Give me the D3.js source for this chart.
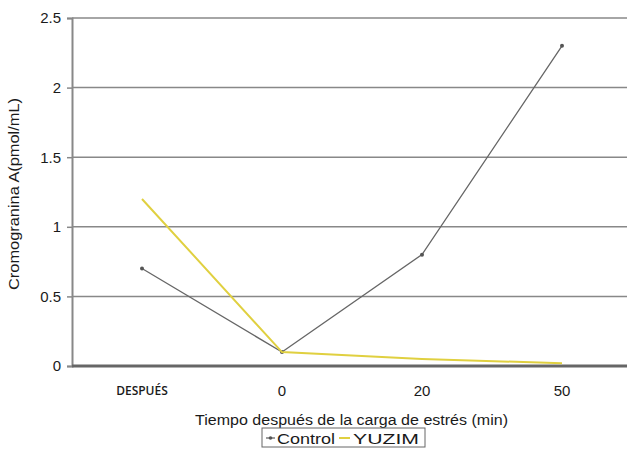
<!DOCTYPE html>
<html lang="es">
<head>
<meta charset="utf-8" />
<title>Cromogranina A</title>
<script src="https://d3js.org/d3.v7.min.js"></script>
<style>
    body { margin: 0; background: #fff; }
    text { font-family: "Liberation Sans", Arial, sans-serif; fill: #1a1a1a; }
</style>
</head>
<body>
<div id="chart"></div>
<script>
    var categories = ["DESPUÉS", "0", "20", "50"];
    var control = [0.7, 0.1, 0.8, 2.3];
    var yuzim = [1.2, 0.1, 0.05, 0.02];
    var yTicks = [0, 0.5, 1, 1.5, 2, 2.5];

    var width = 627, height = 452;
    var margin = { left: 72, top: 18, bottom: 86 };

    var svg = d3.select("#chart").append("svg")
        .attr("width", width)
        .attr("height", height);

    var x = d3.scaleBand()
        .domain(categories)
        .range([margin.left, margin.left + 560]);

    var y = d3.scaleLinear()
        .domain([0, 2.5])
        .range([height - margin.bottom, margin.top]);

    // gridlines + y axis
    var yAxis = svg.append("g")
        .attr("transform", "translate(" + margin.left + ",0)")
        .call(d3.axisLeft(y).tickValues(yTicks).tickFormat(d3.format("")).tickSize(5).tickPadding(6));
    yAxis.select(".domain").attr("stroke", "#888").attr("stroke-width", 2);
    yAxis.selectAll(".tick line").attr("stroke", "#888").attr("stroke-width", 1.5);
    yAxis.selectAll(".tick text")
        .style("font-size", "15px");

    svg.append("g").selectAll("line")
        .data(yTicks.slice(1))
        .enter().append("line")
        .attr("x1", margin.left).attr("x2", width)
        .attr("y1", function (d) { return y(d); })
        .attr("y2", function (d) { return y(d); })
        .attr("stroke", "#888")
        .attr("stroke-width", 1.5);

    // x axis
    svg.append("line")
        .attr("x1", margin.left).attr("x2", width)
        .attr("y1", y(0)).attr("y2", y(0))
        .attr("stroke", "#666").attr("stroke-width", 3);

    svg.append("g").selectAll("text")
        .data(categories)
        .enter().append("text")
        .attr("x", function (d) { return x(d) + x.bandwidth() / 2; })
        .attr("y", function (d, i) { return i === 0 ? 395 : 396; })
        .attr("text-anchor", "middle")
        .style("font-size", function (d, i) { return i === 0 ? "12px" : "15px"; })
        .style("font-family", function (d, i) { return i === 0 ? "'Open Sans', sans-serif" : null; })
        .style("font-weight", function (d, i) { return i === 0 ? "600" : null; })
        .text(function (d) { return d; });

    svg.append("text")
        .attr("x", 195).attr("y", 425)
        .attr("textLength", 313)
        .attr("lengthAdjust", "spacingAndGlyphs")
        .style("font-size", "14px")
        .text("Tiempo después de la carga de estrés (min)");

    svg.append("text")
        .attr("transform", "translate(19,290) rotate(-90)")
        .attr("textLength", 192)
        .attr("lengthAdjust", "spacingAndGlyphs")
        .style("font-size", "14px")
        .text("Cromogranina A(pmol/mL)");

    // series
    var line = d3.line()
        .x(function (d, i) { return x(categories[i]) + x.bandwidth() / 2; })
        .y(function (d) { return y(d); });

    svg.append("path")
        .datum(control)
        .attr("fill", "none")
        .attr("stroke", "#666")
        .attr("stroke-width", 1.3)
        .attr("d", line);

    svg.append("g").selectAll("circle")
        .data(control)
        .enter().append("circle")
        .attr("cx", function (d, i) { return x(categories[i]) + x.bandwidth() / 2; })
        .attr("cy", function (d) { return y(d); })
        .attr("r", 2)
        .attr("fill", "#555");

    svg.append("path")
        .datum(yuzim)
        .attr("fill", "none")
        .attr("stroke", "#e0d040")
        .attr("stroke-width", 2)
        .attr("d", line);

    // legend
    var lg = svg.append("g").attr("transform", "translate(262,428)");
    lg.append("rect")
        .attr("width", 163).attr("height", 19)
        .attr("fill", "#fff").attr("stroke", "#666").attr("stroke-width", 1);
    lg.append("line").attr("x1", 4).attr("x2", 13).attr("y1", 10).attr("y2", 10)
        .attr("stroke", "#666").attr("stroke-width", 1.3);
    lg.append("circle").attr("cx", 8.5).attr("cy", 10).attr("r", 1.8).attr("fill", "#555");
    lg.append("text").attr("x", 15).attr("y", 15.5)
        .attr("textLength", 58).attr("lengthAdjust", "spacingAndGlyphs")
        .style("font-size", "15px").text("Control");
    lg.append("line").attr("x1", 77).attr("x2", 88).attr("y1", 10).attr("y2", 10)
        .attr("stroke", "#e0d040").attr("stroke-width", 2);
    lg.append("text").attr("x", 91).attr("y", 15.5)
        .attr("textLength", 66).attr("lengthAdjust", "spacingAndGlyphs")
        .style("font-size", "15px").text("YUZIM");
</script>
</body>
</html>
